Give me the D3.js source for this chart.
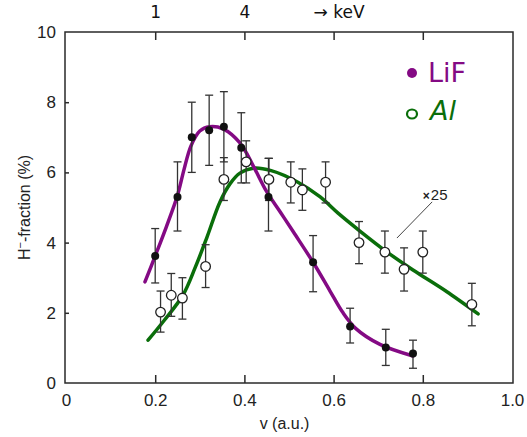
<!DOCTYPE html>
<html><head><meta charset="utf-8">
<script src="https://cdn.jsdelivr.net/npm/d3@7"></script>
<style>html,body{margin:0;padding:0;background:#fff;}svg{display:block;}</style>
</head><body>
<script>
// ---- data ----
const xTicks = [0, 0.2, 0.4, 0.6, 0.8, 1.0];
const xTickLabels = ["0", "0.2", "0.4", "0.6", "0.8", "1.0"];
const yTicks = [0, 2, 4, 6, 8, 10];
const topTicks = [0.2, 0.4, 0.6, 0.8];
const topTickLabels = ["1", "4", "\u2192 keV", ""];

const lifX  = [0.2, 0.25, 0.282, 0.321, 0.354, 0.393, 0.454, 0.554, 0.637, 0.717, 0.778];
const lifY  = [3.62, 5.3, 7.0, 7.2, 7.3, 6.7, 5.3, 3.44, 1.61, 1.01, 0.84];
const lifHi = [4.4, 6.3, 8.0, 8.2, 8.3, 7.7, 6.4, 4.2, 2.13, 1.53, 1.22];
const lifLo = [2.85, 4.33, 6.0, 6.2, 6.3, 5.7, 4.33, 2.6, 1.14, 0.5, 0.42];

const alX  = [0.212, 0.236, 0.261, 0.313, 0.354, 0.404, 0.455, 0.504, 0.53, 0.582, 0.657, 0.715, 0.758, 0.8, 0.91];
const alY  = [2.02, 2.5, 2.42, 3.32, 5.8, 6.3, 5.8, 5.72, 5.5, 5.72, 4.0, 3.73, 3.24, 3.73, 2.24];
const alHi = [2.62, 3.12, 3.0, 3.94, 6.42, 6.9, 6.4, 6.3, 6.1, 6.3, 4.6, 4.33, 3.85, 4.33, 2.84];
const alLo = [1.45, 1.9, 1.82, 2.72, 5.2, 5.7, 5.2, 5.13, 4.92, 5.13, 3.4, 3.13, 2.62, 3.13, 1.63];

const lifCurveX = [0.177, 0.2, 0.225, 0.25, 0.265, 0.28, 0.3, 0.322, 0.352, 0.39, 0.42, 0.45, 0.48, 0.51, 0.554, 0.592, 0.62, 0.65, 0.704, 0.778];
const lifCurveY = [2.88, 3.62, 4.45, 5.35, 6.1, 6.75, 7.18, 7.3, 7.24, 6.84, 6.18, 5.45, 4.88, 4.3, 3.44, 2.62, 2.02, 1.55, 1.1, 0.77];

const alCurveX = [0.184, 0.22, 0.262, 0.29, 0.316, 0.345, 0.368, 0.39, 0.42, 0.46, 0.52, 0.57, 0.61, 0.659, 0.72, 0.778, 0.854, 0.924];
const alCurveY = [1.22, 1.78, 2.5, 3.3, 4.15, 5.15, 5.68, 5.98, 6.12, 6.05, 5.72, 5.3, 4.84, 4.33, 3.73, 3.22, 2.6, 1.97];

const annotText = "25";
const annotLine = [[0.742, 4.13], [0.821, 5.16]];
const annotPos = [0.80, 5.21];

// ---- layout ----
const W = 527, H = 437;
const purple = "#840a84", green = "#0a6e0a", ink = "#2a2a2a";
const font = "'Liberation Sans', Arial, sans-serif";

const x = d3.scaleLinear().domain([0, 1]).range([66, 512]);
const y = d3.scaleLinear().domain([0, 10]).range([383, 32]);

const svg = d3.select("body").append("svg").attr("width", W).attr("height", H);

// frame
svg.append("rect").attr("x", x(0) - 1).attr("y", y(10)).attr("width", x(1) - x(0) + 2).attr("height", y(0) - y(10))
  .attr("fill", "none").attr("stroke", ink).attr("stroke-width", 1.5);

// bottom axis
const xb = d3.axisBottom(x).tickValues(xTicks).tickSizeInner(-8).tickSizeOuter(0)
  .tickFormat((d, i) => xTickLabels[i]).tickPadding(14);
const gxb = svg.append("g").attr("transform", `translate(0,${y(0)})`).call(xb);
gxb.select(".domain").remove();
gxb.selectAll(".tick line").attr("stroke", ink).attr("stroke-width", 1.5)
  .filter(d => d === 0 || d === 1).remove();
gxb.selectAll(".tick text").attr("font-family", font).attr("font-size", 17).attr("fill", "#222").attr("dy", "0.5em");

// top axis
const xt = d3.axisTop(x).tickValues(topTicks).tickSizeInner(-8).tickSizeOuter(0)
  .tickFormat((d, i) => topTickLabels[i]).tickPadding(14);
const gxt = svg.append("g").attr("transform", `translate(0,${y(10)})`).call(xt);
gxt.select(".domain").remove();
gxt.selectAll(".tick line").attr("stroke", ink).attr("stroke-width", 1.5);
gxt.selectAll(".tick text").attr("font-family", "'DejaVu Sans', sans-serif").attr("font-size", 17).attr("fill", "#111")
  .attr("dx", (d, i) => i === 2 ? 5 : 0);

// left axis
const yl = d3.axisLeft(y).tickValues(yTicks).tickSizeInner(-4).tickSizeOuter(0).tickPadding(9);
const gyl = svg.append("g").attr("transform", `translate(${x(0) - 1},0)`).call(yl);
gyl.select(".domain").remove();
gyl.selectAll(".tick line").attr("stroke", ink).attr("stroke-width", 1.5)
  .filter(d => d === 0 || d === 10).remove();
gyl.selectAll(".tick text").attr("font-family", font).attr("font-size", 17).attr("fill", "#222");

// axis titles
svg.append("text").attr("x", x(0.49)).attr("y", 429).attr("text-anchor", "middle")
  .attr("font-family", font).attr("font-size", 16).attr("fill", "#222").text("v (a.u.)");
const yt = svg.append("text").attr("transform", `translate(30,${y(5)}) rotate(-90)`).attr("text-anchor", "middle")
  .attr("font-family", font).attr("font-size", 16).attr("fill", "#222");
yt.append("tspan").text("H");
yt.append("tspan").attr("baseline-shift", "super").attr("font-size", 11).text("\u2212");
yt.append("tspan").text("-fraction (%)");

// curves
const line = d3.line().x(d => x(d[0])).y(d => y(d[1])).curve(d3.curveCatmullRom.alpha(0.5));
svg.append("path").datum(alCurveX.map((v, i) => [v, alCurveY[i]]))
  .attr("d", line).attr("fill", "none").attr("stroke", green).attr("stroke-width", 3.5).attr("stroke-linecap", "round");
svg.append("path").datum(lifCurveX.map((v, i) => [v, lifCurveY[i]]))
  .attr("d", line).attr("fill", "none").attr("stroke", purple).attr("stroke-width", 3.5).attr("stroke-linecap", "round");

// error bars
function errbars(xs, hi, lo) {
  const g = svg.append("g").attr("stroke", "#333").attr("stroke-width", 1.3).attr("fill", "none");
  xs.forEach((v, i) => {
    g.append("line").attr("x1", x(v)).attr("x2", x(v)).attr("y1", y(hi[i])).attr("y2", y(lo[i]));
    g.append("line").attr("x1", x(v) - 4).attr("x2", x(v) + 4).attr("y1", y(hi[i])).attr("y2", y(hi[i]));
    g.append("line").attr("x1", x(v) - 4).attr("x2", x(v) + 4).attr("y1", y(lo[i])).attr("y2", y(lo[i]));
  });
}
errbars(alX, alHi, alLo);
errbars(lifX, lifHi, lifLo);

// markers
svg.append("g").selectAll("circle").data(alX.map((v, i) => [v, alY[i]])).join("circle")
  .attr("cx", d => x(d[0])).attr("cy", d => y(d[1])).attr("r", 4.8)
  .attr("fill", "#fff").attr("stroke", "#222").attr("stroke-width", 1.3);
svg.append("g").selectAll("circle").data(lifX.map((v, i) => [v, lifY[i]])).join("circle")
  .attr("cx", d => x(d[0])).attr("cy", d => y(d[1])).attr("r", 4)
  .attr("fill", "#111");

// annotation
svg.append("line").attr("x1", x(annotLine[0][0])).attr("y1", y(annotLine[0][1]))
  .attr("x2", x(annotLine[1][0])).attr("y2", y(annotLine[1][1]))
  .attr("stroke", "#444").attr("stroke-width", 1);
const at = svg.append("text").attr("x", x(annotPos[0])).attr("y", y(annotPos[1]))
  .attr("font-family", font).attr("font-size", 15).attr("fill", "#222");
at.append("tspan").attr("font-size", 12).attr("font-weight", "bold").text("\u00d7");
at.append("tspan").attr("dx", 1).text(annotText);

// legend
svg.append("circle").attr("cx", 412).attr("cy", 73).attr("r", 5).attr("fill", purple);
svg.append("text").attr("x", 428).attr("y", 82).attr("font-family", "'DejaVu Sans', sans-serif")
  .attr("font-size", 27).attr("fill", purple).text("LiF");
svg.append("ellipse").attr("cx", 412).attr("cy", 114).attr("rx", 5).attr("ry", 4.5)
  .attr("fill", "none").attr("stroke", green).attr("stroke-width", 2.2);
svg.append("text").attr("x", 430).attr("y", 120).attr("font-family", "'DejaVu Sans', sans-serif")
  .attr("font-style", "italic").attr("font-size", 27).attr("fill", green).text("Al");
</script>
</body></html>
